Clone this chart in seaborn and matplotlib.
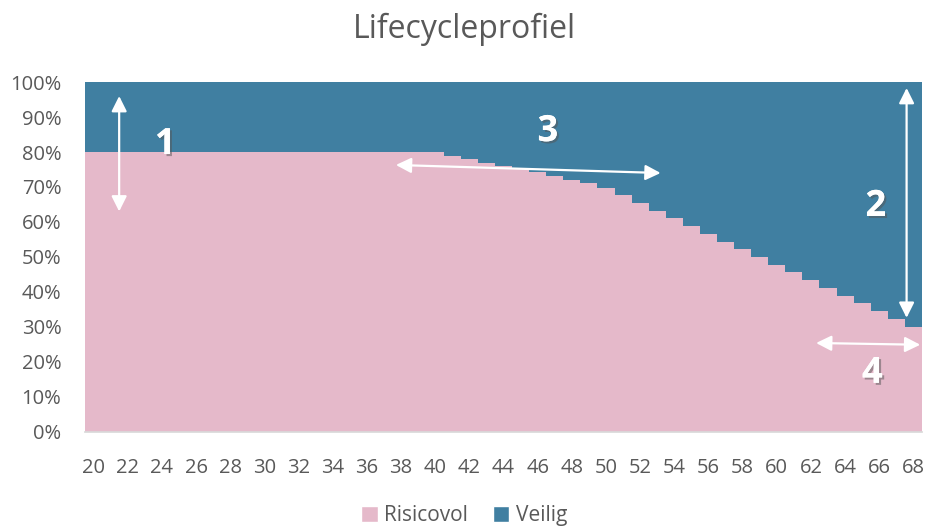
import numpy as np
import pandas as pd
import matplotlib
matplotlib.use('Agg')
import matplotlib.pyplot as plt
import matplotlib.patheffects as pe
from matplotlib.patches import Patch
import seaborn as sns

# Leeftijden en verdeling (in %)
ages = list(range(20, 69))
risicovol = [80] * 21 + [79, 78, 77, 76, 75.2, 74.2, 73, 72, 71, 69.8,
                         67.7, 65.5, 63.2, 61, 58.9, 56.7, 54.4, 52.2, 50,
                         47.8, 45.6, 43.4, 41.1, 38.9, 36.8, 34.6, 32.4, 30]
veilig = [100 - r for r in risicovol]
tick_ages = list(range(20, 69, 2))

pink = '#E5B9CA'
blue = '#407FA1'
grey = '#595959'

sns.set_theme(style='white')
plt.rcParams['font.family'] = ['Open Sans', 'DejaVu Sans']

df = pd.DataFrame({'leeftijd': ages, 'Risicovol': risicovol, 'Veilig': veilig})
df['totaal'] = df['Risicovol'] + df['Veilig']

fig = plt.figure(figsize=(9.28, 5.26), dpi=100)
ax = fig.add_axes([0.0916, 0.179, 0.9019, 0.665])

# gestapeld: eerst totaal (veilig bovenop), dan risicovol
sns.barplot(data=df, x='leeftijd', y='totaal', color=blue, width=1, saturation=1,
            linewidth=0, ax=ax)
sns.barplot(data=df, x='leeftijd', y='Risicovol', color=pink, width=1, saturation=1,
            linewidth=0, ax=ax)

ax.set_ylim(0, 100)
ax.set_xlim(-0.5, len(ages) - 0.5)
ax.set_yticks(range(0, 101, 10))
ax.set_yticklabels([f'{v}%' for v in range(0, 101, 10)], fontsize=14.5, color=grey)
pos = [ages.index(a) for a in tick_ages]
ax.set_xticks(pos)
ax.set_xticklabels([str(a) for a in tick_ages], fontsize=14.5, color=grey)
ax.tick_params(axis='x', pad=19, length=0)
ax.tick_params(axis='y', pad=17, length=0)
ax.set_xlabel('')
ax.set_ylabel('')
for s in ['top', 'right', 'left']:
    ax.spines[s].set_visible(False)
ax.spines['bottom'].set_color('#D9D9D9')

fig.text(0.5, 0.945, 'Lifecycleprofiel', ha='center', va='center', fontsize=23, color=grey)

# pijlen en nummers
arrow = dict(arrowstyle='<|-|>', color='white', lw=1.6, mutation_scale=23,
             shrinkA=0, shrinkB=0)
ax.annotate('', xy=(1.5, 96), xytext=(1.5, 63), arrowprops=arrow)
ax.annotate('', xy=(17.7, 76.3), xytext=(33.2, 74), arrowprops=arrow)
ax.annotate('', xy=(47.6, 98.3), xytext=(47.6, 32.6), arrowprops=arrow)
ax.annotate('', xy=(42.3, 25.4), xytext=(48.4, 24.9), arrowprops=arrow)

shadow = [pe.withSimplePatchShadow(offset=(1.5, -1.5), shadow_rgbFace='#555555', alpha=0.5),
          pe.Normal()]
for txt, x, y in [('1', 4.2, 82), ('3', 26.6, 85.7), ('2', 45.8, 64.3), ('4', 45.6, 16.6)]:
    ax.text(x, y, txt, color='white', fontsize=26, fontweight='bold',
            ha='center', va='center', path_effects=shadow)

handles = [Patch(facecolor=pink, label='Risicovol'), Patch(facecolor=blue, label='Veilig')]
fig.legend(handles=handles, loc='center', bbox_to_anchor=(0.5, 0.02), ncol=2,
           frameon=False, fontsize=15, labelcolor=grey, handlelength=0.8,
           handleheight=0.8, handletextpad=0.3, columnspacing=1.2)

fig.savefig('out.png', dpi=100)
